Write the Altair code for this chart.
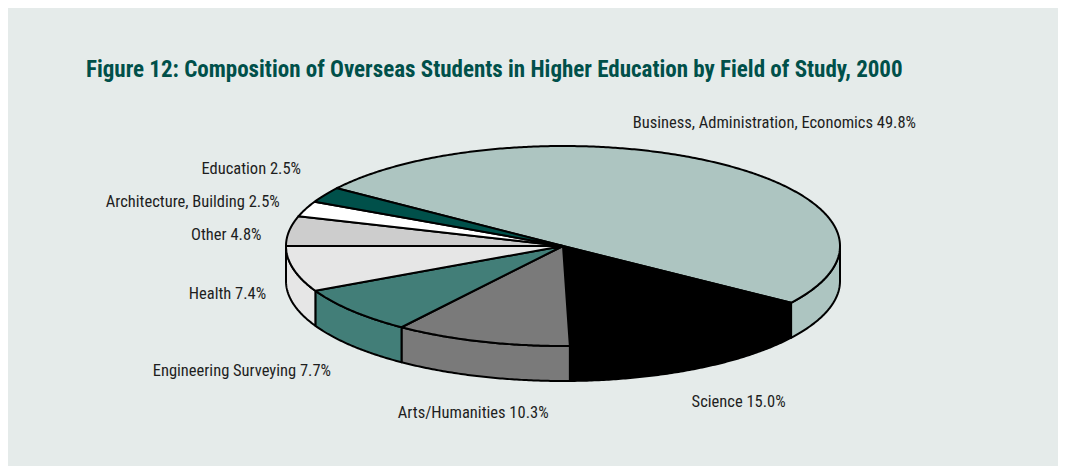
import math
import altair as alt
import pandas as pd

# ---- data ----
categories = ["Business, Administration, Economics", "Science", "Arts/Humanities",
              "Engineering Surveying", "Health", "Other", "Architecture, Building", "Education"]
values = [49.8, 15.0, 10.3, 7.7, 7.4, 4.8, 2.5, 2.5]
colors = ["#adc5c1", "#000000", "#7a7a7a", "#427e78", "#e6e6e6", "#cdcdcd", "#ffffff", "#00504a"]
TITLE = "Figure 12: Composition of Overseas Students in Higher Education by Field of Study, 2000"

# ---- layout / style constants ----
W, H = 1050, 458
CX, CY, RX, RY, DEPTH = 555, 238, 277, 100, 35
START = -54.7          # degrees, clockwise from 12 o'clock
FONT = "Roboto Condensed, Liberation Sans Narrow, Roboto, sans-serif"


def rim(theta_deg, dy=0.0):
    t = math.radians(theta_deg)
    return CX + RX * math.sin(t), CY - RY * math.cos(t) + dy


poly_rows = []
label_rows = []
total = sum(values)
a = START
for i, (cat, v, col) in enumerate(zip(categories, values, colors)):
    b = a + 360.0 * v / total
    # side wall (visible front half 90..270 degrees)
    lo, hi = max(a, 90.0), min(b, 270.0)
    if hi > lo:
        pid = f"side{i}"
        n = max(2, int((hi - lo) * 2))
        pts = [rim(lo + (hi - lo) * j / n) for j in range(n + 1)]
        pts += [rim(hi - (hi - lo) * j / n, DEPTH) for j in range(n + 1)]
        pts.append(pts[0])
        for k, (x, y) in enumerate(pts):
            poly_rows.append(dict(pid=pid, k=k, x=x, y=y, color=col))
    # top face
    pid = f"top{i}"
    n = max(2, int((b - a) * 2))
    pts = [(CX, CY)] + [rim(a + (b - a) * j / n) for j in range(n + 1)] + [(CX, CY)]
    for k, (x, y) in enumerate(pts):
        poly_rows.append(dict(pid=pid, k=k, x=x, y=y, color=col))
    # label anchor outside the rim
    mid = math.radians((a + b) / 2)
    s, c = math.sin(mid), math.cos(mid)
    lx = CX + (RX + (92 if s > 0 else 28)) * s
    ly = CY - (RY + (50 if c > 0 else 38)) * c + (DEPTH * min(1.0, 2 * abs(c)) if c < 0 else 0)
    align = "center" if abs(s) < 0.6 else ("right" if s < 0 else "left")
    label_rows.append(dict(text=f"{cat} {v:.1f}%", x=lx, y=ly, align=align))
    a = b

labels = pd.DataFrame(label_rows)
# spread left-hand labels so they keep a minimum vertical gap
left = labels[labels["align"] == "right"].sort_values("y")
prev = None
for idx in left.index:
    if prev is not None and labels.at[idx, "y"] < prev + 33:
        labels.at[idx, "y"] = prev + 33
    prev = labels.at[idx, "y"]

polys = pd.DataFrame(poly_rows)

xs = alt.Scale(domain=[0, W], nice=False, zero=False)
ys = alt.Scale(domain=[0, H], nice=False, zero=False, reverse=True)

pie = alt.Chart(polys).mark_line(strokeWidth=2, strokeJoin="round", color="black").encode(
    x=alt.X("x:Q", scale=xs, axis=None),
    y=alt.Y("y:Q", scale=ys, axis=None),
    detail="pid:N",
    order="k:Q",
    fill=alt.Fill("color:N", scale=None, legend=None),
    stroke=alt.value("black"),
)

text_layers = []
for al in ["left", "center", "right"]:
    text_layers.append(
        alt.Chart(labels).transform_filter(alt.datum.align == al).mark_text(
            align=al, baseline="middle", font=FONT, fontSize=16.5, color="#1e1e1e"
        ).encode(
            x=alt.X("x:Q", scale=xs, axis=None),
            y=alt.Y("y:Q", scale=ys, axis=None),
            text="text:N",
        )
    )

chart = alt.layer(pie, *text_layers).properties(
    width=W, height=H,
    title=alt.TitleParams(TITLE, anchor="start", frame="group", dx=78, offset=-74,
                          font=FONT, fontSize=23, fontWeight="bold", color="#00504a"),
    autosize=alt.AutoSizeParams(type="none"),
    padding=0,
    background="#e5ebea",
).configure_view(stroke=None)

chart.save("out.html", embed_options={"renderer": "svg", "actions": False})
